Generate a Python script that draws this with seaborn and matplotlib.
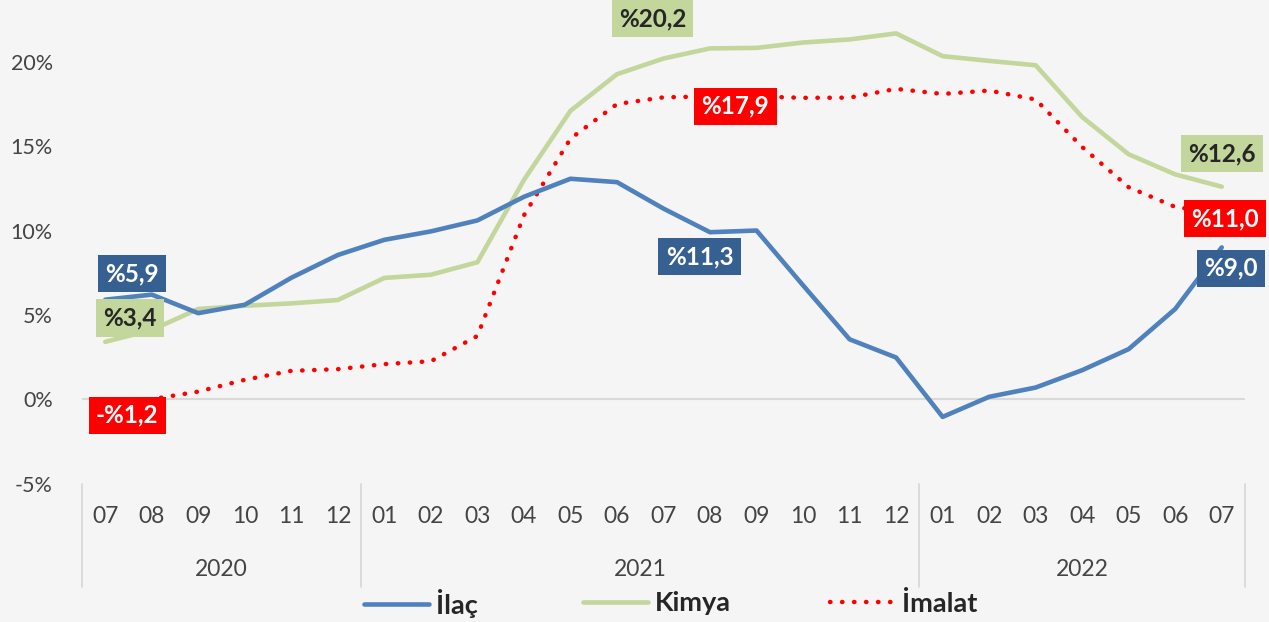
import matplotlib
matplotlib.use("Agg")
import matplotlib.pyplot as plt
import matplotlib.transforms as mtransforms
from matplotlib.lines import Line2D
import seaborn as sns
import numpy as np

# ---------------- data ----------------
months = ["07", "08", "09", "10", "11", "12",
          "01", "02", "03", "04", "05", "06", "07", "08", "09", "10", "11", "12",
          "01", "02", "03", "04", "05", "06", "07"]
years = ["2020", "2021", "2022"]
year_counts = [6, 12, 7]

ilac = [5.9, 6.2, 5.1, 5.6, 7.2, 8.55, 9.45, 9.95, 10.6, 12.0, 13.07, 12.87, 11.3,
        9.9, 10.0, 6.75, 3.55, 2.47, -1.05, 0.14, 0.69, 1.72, 2.97, 5.35, 9.0]
kimya = [3.4, 4.1, 5.35, 5.54, 5.68, 5.88, 7.19, 7.38, 8.12, 13.0, 17.1, 19.27, 20.2,
         20.8, 20.83, 21.15, 21.33, 21.69, 20.34, 20.06, 19.8, 16.73, 14.52, 13.33, 12.6]
imalat = [-1.2, 0.0, 0.45, 1.15, 1.68, 1.78, 2.08, 2.25, 3.75, 10.9, 15.45, 17.5, 17.9,
          17.95, 17.95, 17.87, 17.88, 18.4, 18.1, 18.3, 17.77, 14.95, 12.57, 11.4, 11.0]

series_names = ["İlaç", "Kimya", "İmalat"]
label_idx = [0, 12, 24]

# ---------------- style ----------------
BG = "#F5F5F5"
C_BLUE = "#4F81BD"
C_GREEN = "#C3D69B"
C_RED = "#FF0000"
C_BLUE_LBL = "#376092"
TXT = "#444444"

sns.set_style("white")
plt.rcParams["font.family"] = ["Lato", "DejaVu Sans"]

W, H = 1269, 622
fig = plt.figure(figsize=(W / 100, H / 100), dpi=100, facecolor=BG)
ax = fig.add_axes([82 / W, (H - 483.5) / H, (1245 - 82) / W, 483.5 / H])
ax.set_facecolor(BG)

x = np.arange(len(months))
dotted = (0, (0.1, 2.6))
sns.lineplot(x=x, y=ilac, ax=ax, color=C_BLUE, linewidth=3.3,
             solid_capstyle="round", solid_joinstyle="round", zorder=4)
sns.lineplot(x=x, y=kimya, ax=ax, color=C_GREEN, linewidth=3.3,
             solid_capstyle="round", solid_joinstyle="round", zorder=3)
sns.lineplot(x=x, y=imalat, ax=ax, color=C_RED, linewidth=3.2,
             linestyle=dotted, dash_capstyle="round", zorder=3)

ax.axhline(0, color="#D9D9D9", linewidth=1.5, zorder=1)

ax.set_xlim(-0.5, len(months) - 0.5)
ax.set_ylim(-5, 23.67)
for s in ax.spines.values():
    s.set_visible(False)
ax.grid(False)

yticks = [-5, 0, 5, 10, 15, 20]
ax.set_yticks(yticks)
ax.set_yticklabels([f"{v}%" for v in yticks], fontsize=15.5, color=TXT)
ax.tick_params(axis="y", length=0, pad=21)

ax.set_xticks(x)
ax.set_xticklabels(months, fontsize=16.5, color=TXT)
ax.tick_params(axis="x", length=0, pad=16)

# multi-level category axis: year labels + separators
trans = mtransforms.blended_transform_factory(ax.transData, ax.transAxes)
start = -0.5
bounds = [start]
for yr, n in zip(years, year_counts):
    center = start + n / 2
    ax.text(center, -(570 - 483.5) / 483.5, yr, transform=trans, ha="center",
            va="center", fontsize=16.5, color=TXT)
    start += n
    bounds.append(start)
for b in bounds:
    ax.plot([b, b], [0, -(587 - 483.5) / 483.5], transform=trans, color="#D9D9D9",
            linewidth=1.3, clip_on=False)

# data labels
def lbl(i, vals, txt, face, tcol, dx, dy):
    ax.annotate(txt, xy=(i, vals[i]), xytext=(dx, dy), textcoords="offset pixels",
                ha="center", va="center", fontsize=17.5, fontweight="bold", color=tcol,
                bbox=dict(boxstyle="square,pad=0.3", fc=face, ec="none"),
                zorder=6, annotation_clip=False)

def fmt(v):
    s = f"{abs(v):.1f}".replace(".", ",")
    return ("-%" if v < 0 else "%") + s

offs_blue = [(27, 26), (36, -48), (9, -21)]
offs_green = [(25, 24), (-11, 40), (0, 33)]
offs_red = [(22, 4), (72, -9), (3, -5)]
for k, i in enumerate(label_idx):
    lbl(i, ilac, fmt(ilac[i]), C_BLUE_LBL, "white", *offs_blue[k])
    lbl(i, kimya, fmt(kimya[i]), C_GREEN, "#262626", *offs_green[k])
    lbl(i, imalat, fmt(imalat[i]), C_RED, "white", *offs_red[k])

# legend (three entries placed like the original)
handles = [
    Line2D([], [], color=C_BLUE, linewidth=3.3, solid_capstyle="round"),
    Line2D([], [], color=C_GREEN, linewidth=3.3, solid_capstyle="round"),
    Line2D([], [], color=C_RED, linewidth=3.2, linestyle=dotted, dash_capstyle="round"),
]
leg_x = [364, 583, 830]
for h, name, lx in zip(handles, series_names, leg_x):
    leg = fig.legend([h], [name], loc="center left", bbox_to_anchor=(lx / W, (H - 603) / H),
                     frameon=False, handlelength=2.4, handletextpad=0.25,
                     borderpad=0, borderaxespad=0,
                     prop={"family": ["Lato", "DejaVu Sans"], "weight": "bold", "size": 19.5})
    for t in leg.get_texts():
        t.set_color("#262626")

fig.savefig("out.png", dpi=100, facecolor=BG)
